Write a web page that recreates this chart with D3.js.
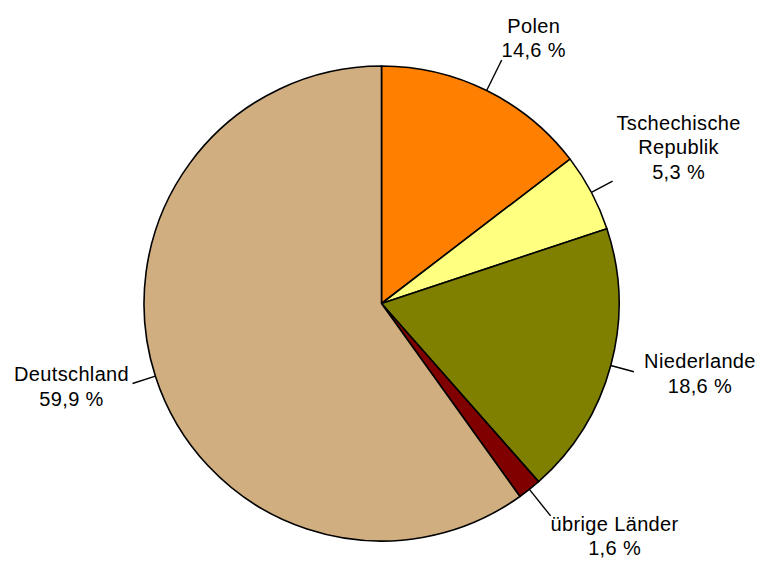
<!DOCTYPE html>
<html>
<head>
<meta charset="utf-8">
<script src="https://cdn.jsdelivr.net/npm/d3@7"></script>
<style>
  body { margin: 0; background: #fff; }
  text { font-family: "Liberation Sans", Arial, sans-serif; font-size: 20px; fill: #000; letter-spacing: 0.35px; }
</style>
</head>
<body>
<svg width="764" height="567"></svg>
<script>
  // data (shares in percent, clockwise from 12 o'clock)
  const categories = ['Polen', 'Tschechische\nRepublik', 'Niederlande', 'übrige Länder', 'Deutschland'];
  const values = [14.6, 5.3, 18.6, 1.6, 59.9];
  const colors = ['#ff8000', '#ffff80', '#808000', '#800000', '#d0ae80'];

  const svg = d3.select('svg');
  const cx = 381.5, cy = 303.5, radius = 237.5;

  // leader length beyond the rim and label block offset from leader end
  const leaderExt = [34, 24, 24, 34, 24];
  const labelShift = [[32, -22], [66, -34], [66, 2], [64, 20], [-61, 3]];

  const locale = d3.formatLocale({ decimal: ',', thousands: '.', grouping: [3], currency: ['', ' €'] });
  const fmt = locale.format('.1f');

  const pie = d3.pie().sort(null).value(d => d.value);
  const arcs = pie(categories.map((c, i) => ({ name: c, value: values[i], color: colors[i] })));

  const arc = d3.arc().innerRadius(0).outerRadius(radius);

  const g = svg.append('g')
    .attr('transform', `translate(${cx},${cy})`);

  g.selectAll('path')
    .data(arcs)
    .join('path')
      .attr('d', arc)
      .attr('fill', d => d.data.color)
      .attr('stroke', '#000')
      .attr('stroke-width', 1.6)
      .attr('stroke-linejoin', 'round');

  const lineHeight = 24.5;

  arcs.forEach((d, i) => {
    const mid = (d.startAngle + d.endAngle) / 2;
    const dir = [Math.sin(mid), -Math.cos(mid)];
    const r2 = radius + leaderExt[i];
    const end = [dir[0] * r2, dir[1] * r2];

    g.append('line')
      .attr('x1', dir[0] * radius).attr('y1', dir[1] * radius)
      .attr('x2', end[0]).attr('y2', end[1])
      .attr('stroke', '#000')
      .attr('stroke-width', 1.4);

    const lines = d.data.name.split('\n').concat([fmt(d.data.value) + ' %']);
    const tx = end[0] + labelShift[i][0];
    const ty = end[1] + labelShift[i][1] - (lines.length - 1) * lineHeight / 2;

    const t = g.append('text')
      .attr('text-anchor', 'middle')
      .attr('x', tx)
      .attr('y', ty);
    lines.forEach((s, k) => {
      t.append('tspan')
        .attr('x', tx)
        .attr('y', ty + k * lineHeight)
        .attr('dy', '0.35em')
        .text(s);
    });
  });
</script>
</body>
</html>
